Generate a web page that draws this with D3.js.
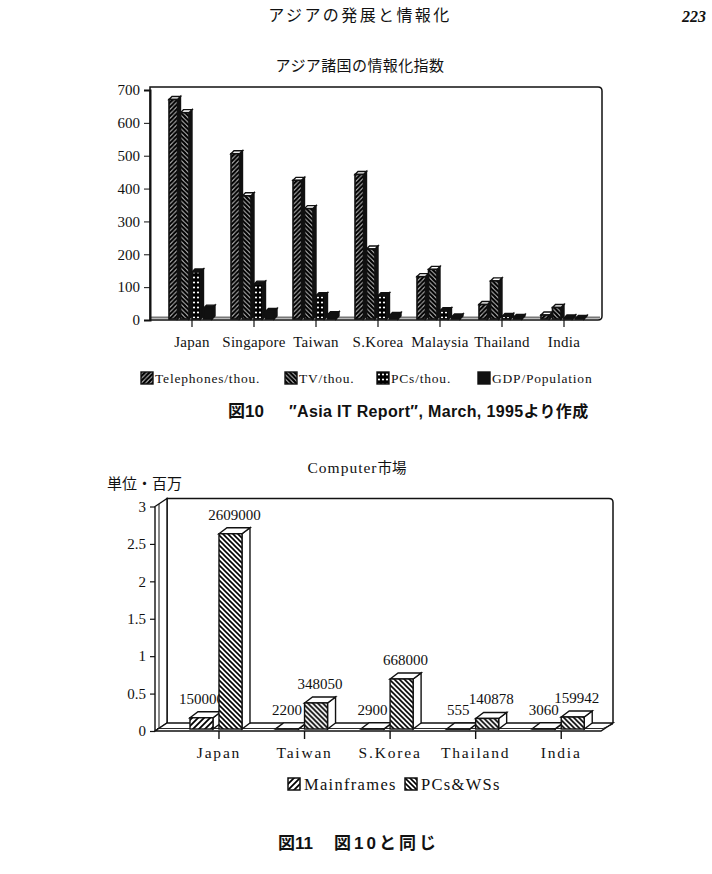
<!DOCTYPE html>
<html>
<head>
<meta charset="utf-8">
<script src="https://cdn.jsdelivr.net/npm/d3@7"></script>
<style>
body { margin: 0; background: #fff; }
svg { display: block; }
.serif { font-family: "Liberation Serif", "DejaVu Serif", serif; fill: #111; }
.jp { font-family: "Noto Sans CJK JP", sans-serif; fill: #111; }
.cap { font-family: "Liberation Sans", "Noto Sans CJK JP", sans-serif; font-weight: bold; fill: #111; }
</style>
</head>
<body>
<svg id="page"></svg>
<script>
var width = 712,
    height = 874;

// 図10 data
var countries = ["Japan", "Singapore", "Taiwan", "S.Korea", "Malaysia", "Thailand", "India"];
var indexSeries = ["Telephones/thou.", "TV/thou.", "PCs/thou.", "GDP/Population"];
var telephones = [668, 503, 422, 440, 129, 44, 12];
var tvSets = [628, 375, 336, 213, 151, 116, 35];
var pcs = [143, 106, 71, 71, 25, 8, 3];
var gdpPop = [33, 23, 13, 11, 6, 5, 2];
var indexTicks = [0, 100, 200, 300, 400, 500, 600, 700];

// 図11 data
var marketCountries = ["Japan", "Taiwan", "S.Korea", "Thailand", "India"];
var marketSeries = ["Mainframes", "PCs&WSs"];
var mainframes = [150000, 2200, 2900, 555, 3060];
var pcsWss = [2609000, 348050, 668000, 140878, 159942];
var marketTicks = [0, 0.5, 1, 1.5, 2, 2.5, 3];

var svg = d3.select('#page')
            .attr('width', width)
            .attr('height', height);

var defs = svg.append('defs');

function hatch(id, dir, gap, sw) {
  var p = defs.append('pattern')
      .attr('id', id)
      .attr('patternUnits', 'userSpaceOnUse')
      .attr('width', gap)
      .attr('height', gap);
  p.append('rect').attr('width', gap).attr('height', gap).attr('fill', '#fff');
  var d;
  if (dir > 0) {
    d = 'M0,' + gap + 'L' + gap + ',0M' + (-gap / 2) + ',' + (gap / 2) + 'L' + (gap / 2) + ',' + (-gap / 2) +
        'M' + (gap / 2) + ',' + (gap * 1.5) + 'L' + (gap * 1.5) + ',' + (gap / 2);
  } else {
    d = 'M0,0L' + gap + ',' + gap + 'M' + (-gap / 2) + ',' + (gap / 2) + 'L' + (gap / 2) + ',' + (gap * 1.5) +
        'M' + (gap / 2) + ',' + (-gap / 2) + 'L' + (gap * 1.5) + ',' + (gap / 2);
  }
  p.append('path').attr('d', d).attr('stroke', '#000').attr('stroke-width', sw);
}
hatch('telPat', 1, 4.5, 2.4);
hatch('tvPat', -1, 4.5, 2.4);
hatch('mfPat', 1, 6, 1.8);
hatch('pcwPat', -1, 5, 1.6);

var dots = defs.append('pattern')
    .attr('id', 'pcPat')
    .attr('patternUnits', 'userSpaceOnUse')
    .attr('width', 4).attr('height', 5);
dots.append('rect').attr('width', 4).attr('height', 5).attr('fill', '#000');
dots.append('circle').attr('cx', 2).attr('cy', 2.5).attr('r', 1.1).attr('fill', '#fff');

var indexFills = ['url(#telPat)', 'url(#tvPat)', 'url(#pcPat)', '#111'];
var marketFills = ['url(#mfPat)', 'url(#pcwPat)'];

// page header
svg.append('text').classed('jp', true)
   .attr('x', 360).attr('y', 21)
   .style('font-size', '16px').style('letter-spacing', '2.4px')
   .style('text-anchor', 'middle')
   .text('アジアの発展と情報化');
svg.append('text').classed('serif', true)
   .attr('x', 706).attr('y', 22)
   .style('font-size', '16px').style('font-style', 'italic').style('font-weight', 'bold')
   .style('text-anchor', 'end')
   .text('223');

// ---------- 図10 ----------
var indexValues = [telephones, tvSets, pcs, gdpPop];

var x1 = d3.scaleBand().domain(countries).range([161, 595]);
var x1Inner = d3.scaleBand().domain(indexSeries).range([8, 54]);
var y1 = d3.scaleLinear().domain([0, 700]).range([320, 90]);

var chart1 = svg.append('g').classed('chart1', true);

chart1.append('text').classed('jp', true)
  .attr('x', 360).attr('y', 71)
  .style('font-size', '15px')
  .style('letter-spacing', '0.4px')
  .style('text-anchor', 'middle')
  .text('アジア諸国の情報化指数');

// frame and floor
chart1.append('path')
  .attr('d', 'M150,87 H598 Q602,87 602,91 V316 Q602,320 598,320 H150 Z')
  .attr('fill', 'none').attr('stroke', '#111').attr('stroke-width', 1.5);
chart1.append('line')
  .attr('x1', 150).attr('x2', 600).attr('y1', 317.5).attr('y2', 317.5)
  .attr('stroke', '#777').attr('stroke-width', 2);

var yAxis1 = chart1.append('g')
  .attr('transform', 'translate(150,0)')
  .call(d3.axisLeft(y1).tickValues(indexTicks).tickSize(6).tickPadding(4));
yAxis1.select('.domain').attr('stroke', '#111').attr('stroke-width', 2);
yAxis1.selectAll('.tick line').attr('stroke', '#111');
yAxis1.selectAll('.tick text')
  .attr('class', 'serif')
  .style('font-size', '15px');

var xAxis1 = chart1.append('g')
  .attr('transform', 'translate(0,320)')
  .call(d3.axisBottom(x1).tickSize(7).tickPadding(9));
xAxis1.select('.domain').remove();
xAxis1.selectAll('.tick line').attr('stroke', '#111').attr('stroke-width', 1.2);
xAxis1.selectAll('.tick text')
  .attr('class', 'serif')
  .style('font-size', '15px')
  .style('letter-spacing', '0.3px');

var dx1 = 3, dy1 = 3;
var bars1 = [];
countries.forEach(function (c, i) {
  indexSeries.forEach(function (s, j) {
    bars1.push({country: c, series: j, value: indexValues[j][i]});
  });
});

var barW1 = x1Inner.bandwidth() - dx1;
var barG1 = chart1.selectAll('.bar1')
  .data(bars1)
  .enter()
  .append('g')
  .classed('bar1', true)
  .attr('transform', function (d) {
    return 'translate(' + (x1(d.country) + x1Inner(indexSeries[d.series])) + ',0)';
  });

barG1.append('path')
  .attr('d', function (d) {
    var yt = y1(d.value) - 1, yb = y1(0) - 1;
    return 'M' + barW1 + ',' + yt + 'L' + (barW1 + dx1) + ',' + (yt - dy1) + 'L' + (barW1 + dx1) + ',' + (yb - dy1) +
           'L' + barW1 + ',' + yb + 'Z';
  })
  .attr('fill', '#111').attr('stroke', '#111').attr('stroke-width', 1.4);
barG1.append('path')
  .attr('d', function (d) {
    var yt = y1(d.value) - 1;
    return 'M0,' + yt + 'L' + dx1 + ',' + (yt - dy1) + 'L' + (barW1 + dx1) + ',' + (yt - dy1) + 'L' + barW1 + ',' + yt + 'Z';
  })
  .attr('fill', function (d) { return d.series < 2 ? '#fff' : '#111'; })
  .attr('stroke', '#111').attr('stroke-width', 1.4);
barG1.append('rect')
  .attr('x', 0)
  .attr('y', function (d) { return y1(d.value) - 1; })
  .attr('width', barW1)
  .attr('height', function (d) { return y1(0) - y1(d.value); })
  .attr('fill', function (d) { return indexFills[d.series]; })
  .attr('stroke', '#111').attr('stroke-width', 1.6);

// legend 図10
var legend1X = [141, 285, 377, 478];
var legend1 = chart1.selectAll('.leg1')
  .data(indexSeries)
  .enter()
  .append('g')
  .classed('leg1', true)
  .attr('transform', function (d, i) { return 'translate(' + legend1X[i] + ',372)'; });
legend1.append('rect')
  .attr('width', 12).attr('height', 12)
  .attr('fill', function (d, i) { return indexFills[i]; })
  .attr('stroke', '#111').attr('stroke-width', 1.4);
legend1.append('text').classed('serif', true)
  .attr('x', 14).attr('y', 11)
  .style('font-size', '13.5px')
  .style('letter-spacing', '0.8px')
  .text(function (d) { return d; });

// caption 図10
svg.append('text').classed('cap', true)
  .attr('x', 228).attr('y', 417)
  .style('font-size', '17px')
  .text('図10');
svg.append('text').classed('cap', true)
  .attr('x', 289).attr('y', 417)
  .style('font-size', '16px')
  .style('letter-spacing', '0.35px')
  .text('″Asia IT Report″, March, 1995より作成');

// ---------- 図11 ----------
var x2 = d3.scaleBand().domain(marketCountries).range([176.2, 604]);
var y2 = d3.scaleLinear().domain([0, 3]).range([731, 506.5]);
var chart2 = svg.append('g').classed('chart2', true);

chart2.append('text').classed('serif', true)
  .attr('x', 357).attr('y', 473)
  .style('font-size', '15.5px')
  .style('letter-spacing', '1px')
  .style('text-anchor', 'middle')
  .text('Computer')
  .append('tspan').classed('jp', true).style('font-size', '14.5px').style('letter-spacing', '0px').text('市場');
chart2.append('text').classed('jp', true)
  .attr('x', 107).attr('y', 489)
  .style('font-size', '15px')
  .text('単位・百万');

var wallDx = 12, wallDy = 8;
var floorY = y2(0);
// back wall
chart2.append('path')
  .attr('d', 'M' + (155 + wallDx) + ',' + (floorY - wallDy) + 'V' + (y2(3) - wallDy) + 'H609 Q613,' + (y2(3) - wallDy) +
        ' 613,' + (y2(3) - wallDy + 4) + 'V' + (floorY - wallDy))
  .attr('fill', 'none').attr('stroke', '#111').attr('stroke-width', 1.5);
// left wall
chart2.append('path')
  .attr('d', 'M155,' + floorY + 'V' + (y2(3)) + 'L' + (155 + wallDx) + ',' + (y2(3) - wallDy) + 'V' + (floorY - wallDy) + 'Z')
  .attr('fill', '#fff').attr('stroke', '#111').attr('stroke-width', 1.4);
chart2.append('line')
  .attr('x1', 159).attr('x2', 159).attr('y1', y2(3) - 2.5).attr('y2', floorY - 2.5)
  .attr('stroke', '#111').attr('stroke-width', 1);
// floor
chart2.append('path')
  .attr('d', 'M155,' + floorY + 'H' + (613 - wallDx) + 'L613,' + (floorY - wallDy) + 'H' + (155 + wallDx) + 'Z')
  .attr('fill', '#fff').attr('stroke', '#111').attr('stroke-width', 1.4);
chart2.append('path')
  .attr('d', 'M157,' + (floorY - 2.5) + 'H' + (613 - wallDx + 2) + 'L613,' + (floorY - wallDy + 1))
  .attr('fill', 'none').attr('stroke', '#111').attr('stroke-width', 0.9);

var yAxis2 = chart2.append('g')
  .attr('transform', 'translate(155,0)')
  .call(d3.axisLeft(y2).tickValues(marketTicks).tickFormat(d3.format('')).tickSize(5).tickPadding(4));
yAxis2.select('.domain').remove();
yAxis2.selectAll('.tick line').attr('stroke', '#111').attr('stroke-width', 1.2);
yAxis2.selectAll('.tick text')
  .attr('class', 'serif')
  .style('font-size', '15px');

var xAxis2 = chart2.append('g')
  .attr('transform', 'translate(0,' + floorY + ')')
  .call(d3.axisBottom(x2).tickSize(8).tickPadding(8));
xAxis2.select('.domain').remove();
xAxis2.selectAll('.tick line').attr('stroke', '#111').attr('stroke-width', 1.4);
xAxis2.selectAll('.tick text')
  .attr('class', 'serif')
  .style('font-size', '15.5px')
  .style('letter-spacing', '1.8px');

var marketValues = [mainframes, pcsWss];
var bars2 = [];
marketCountries.forEach(function (c, i) {
  marketSeries.forEach(function (s, j) {
    bars2.push({country: c, series: j, value: marketValues[j][i]});
  });
});

var barW2 = 23, dx2 = 8, dy2 = 6, lift2 = 2;
var barX2 = [-29, 0];
var barG2 = chart2.selectAll('.bar2')
  .data(bars2)
  .enter()
  .append('g')
  .classed('bar2', true)
  .attr('transform', function (d) {
    return 'translate(' + (x2(d.country) + x2.bandwidth() / 2 + barX2[d.series]) + ',0)';
  });

barG2.append('path')
  .attr('d', function (d) {
    var yt = y2(d.value / 1e6) - lift2, yb = y2(0) - lift2;
    return 'M' + barW2 + ',' + yt + 'L' + (barW2 + dx2) + ',' + (yt - dy2) + 'L' + (barW2 + dx2) + ',' + (yb - dy2) +
           'L' + barW2 + ',' + yb + 'Z';
  })
  .attr('fill', '#fff').attr('stroke', '#111').attr('stroke-width', 1.4);
barG2.append('path')
  .attr('d', function (d) {
    var yt = y2(d.value / 1e6) - lift2;
    return 'M0,' + yt + 'L' + dx2 + ',' + (yt - dy2) + 'L' + (barW2 + dx2) + ',' + (yt - dy2) + 'L' + barW2 + ',' + yt + 'Z';
  })
  .attr('fill', '#fff').attr('stroke', '#111').attr('stroke-width', 1.4);
barG2.append('rect')
  .attr('x', 0)
  .attr('y', function (d) { return y2(d.value / 1e6) - lift2; })
  .attr('width', barW2)
  .attr('height', function (d) { return y2(0) - y2(d.value / 1e6); })
  .attr('fill', function (d) { return marketFills[d.series]; })
  .attr('stroke', '#111').attr('stroke-width', 1.4);
barG2.append('text').classed('serif', true)
  .attr('x', function (d) { return d.series === 0 ? (barW2 + dx2) / 2 - 4 : (barW2 + dx2) / 2; })
  .attr('y', function (d) { return y2(d.value / 1e6) - lift2 - dy2 - 8; })
  .style('font-size', '15px')
  .style('text-anchor', 'middle')
  .text(function (d) { return d.value; });

// legend 図11
var legend2X = [288, 405];
var legend2 = chart2.selectAll('.leg2')
  .data(marketSeries)
  .enter()
  .append('g')
  .classed('leg2', true)
  .attr('transform', function (d, i) { return 'translate(' + legend2X[i] + ',778)'; });
legend2.append('rect')
  .attr('width', 12).attr('height', 12)
  .attr('fill', function (d, i) { return marketFills[i]; })
  .attr('stroke', '#111').attr('stroke-width', 1.5);
legend2.append('text').classed('serif', true)
  .attr('x', 16).attr('y', 11.5)
  .style('font-size', '16.5px')
  .style('letter-spacing', '1.3px')
  .text(function (d) { return d; });

// caption 図11
svg.append('text').classed('cap', true)
  .attr('x', 278).attr('y', 849)
  .style('font-size', '17px')
  .text('図11');
svg.append('text').classed('cap', true)
  .attr('x', 334).attr('y', 849)
  .style('font-size', '17px')
  .style('letter-spacing', '3px')
  .text('図10と同じ');
</script>
</body>
</html>
